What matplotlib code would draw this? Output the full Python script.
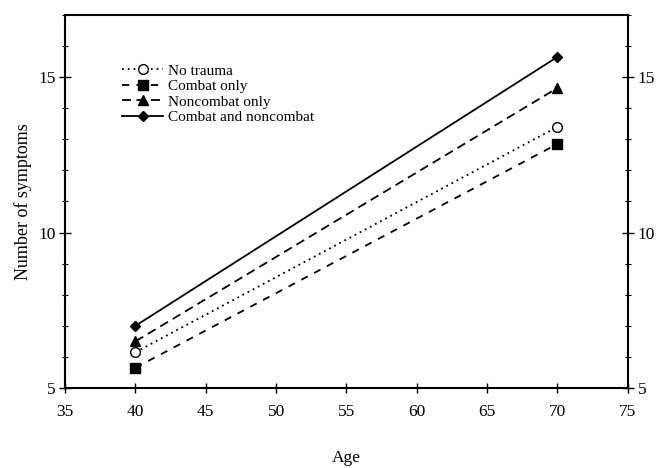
import matplotlib
matplotlib.use("Agg")
import matplotlib.pyplot as plt
from matplotlib.ticker import MultipleLocator

plt.rcParams['font.family'] = ['Liberation Serif', 'DejaVu Serif']

ages = [40, 70]
no_trauma = [6.15, 13.4]
combat_only = [5.65, 12.85]
noncombat_only = [6.5, 14.65]
combat_and_noncombat = [7.0, 15.65]
labels = ["No trauma", "Combat only", "Noncombat only", "Combat and noncombat"]

fig = plt.figure(figsize=(6.58, 4.68), dpi=100)
ax = fig.add_axes([0.099, 0.171, 0.855, 0.797])

lw = 1.3
ax.plot(ages, no_trauma, linestyle=(0, (1, 2.2)), color='black', lw=lw,
        marker='o', markerfacecolor='white', markeredgecolor='black', markersize=7, label=labels[0])
ax.plot(ages, combat_only, linestyle=(0, (4, 4)), color='black', lw=lw,
        marker='s', markersize=6.5, label=labels[1])
ax.plot(ages, noncombat_only, linestyle=(0, (5, 3)), color='black', lw=lw,
        marker='^', markersize=6.5, label=labels[2])
ax.plot(ages, combat_and_noncombat, linestyle='-', color='black', lw=lw,
        marker='D', markersize=5.5, label=labels[3])

ax.set_xlim(35, 75)
ax.set_ylim(5, 17)
ax.xaxis.set_major_locator(MultipleLocator(5))
ax.yaxis.set_major_locator(MultipleLocator(5))
ax.yaxis.set_minor_locator(MultipleLocator(1))

for s in ax.spines.values():
    s.set_linewidth(1.5)

ax.tick_params(axis='x', direction='inout', length=7, width=1, labelsize=12.5, pad=8, top=False)
ax.tick_params(axis='y', which='major', direction='inout', length=8, width=1, labelsize=12.5,
               left=True, right=True, labelleft=True, labelright=True, pad=3)
ax.tick_params(axis='y', which='minor', direction='inout', length=5, width=0.8,
               left=True, right=True)

ax.set_xlabel("Age", fontsize=12.5, labelpad=22)
ax.set_ylabel("Number of symptoms", fontsize=13, labelpad=4)

ax.legend(loc='upper left', bbox_to_anchor=(0.09, 0.885), frameon=False, fontsize=11,
          handlelength=2.7, handletextpad=0.3, labelspacing=0.12, borderaxespad=0)

fig.savefig("out.png", dpi=100)
